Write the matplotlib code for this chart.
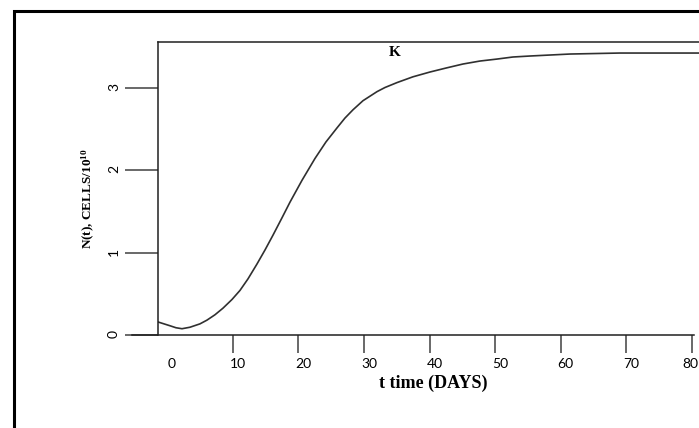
import matplotlib
matplotlib.use('Agg')
import matplotlib.pyplot as plt
from matplotlib.patches import Rectangle
from matplotlib.transforms import ScaledTranslation

# Data
t_days = [-1.37, 0.46, 1.37, 2.29, 3.50, 5.03, 6.09, 7.31, 8.53, 9.90,
          11.12, 12.34, 13.71, 14.93, 16.15, 17.52, 18.74, 20.57, 22.55,
          24.22, 25.90, 27.12, 28.34, 29.86, 32.00, 33.21, 35.05, 37.48,
          40.07, 42.50, 45.10, 47.68, 50.28, 52.71, 55.31, 58.35, 61.40,
          69.01, 81.05, 90.0]
n_cells = [0.158, 0.112, 0.088, 0.076, 0.094, 0.135, 0.180, 0.245, 0.325,
           0.430, 0.540, 0.680, 0.860, 1.030, 1.210, 1.420, 1.610, 1.875,
           2.140, 2.340, 2.510, 2.630, 2.730, 2.840, 2.950, 3.000, 3.060,
           3.130, 3.188, 3.236, 3.285, 3.321, 3.345, 3.370, 3.382, 3.394,
           3.406, 3.418, 3.418, 3.418]
x_ticks = [0, 10, 20, 30, 40, 50, 60, 70, 80]
y_ticks = [0, 1, 2, 3]
x_label = 't time (DAYS)'
y_label = 'N(t), CELLS/10$^{10}$'
k_label = 'K'
k_pos = (34.7, 3.42)

plt.rcParams['mathtext.fontset'] = 'custom'
plt.rcParams['mathtext.rm'] = 'Liberation Serif:bold'
plt.rcParams['mathtext.it'] = 'Liberation Serif:bold'
plt.rcParams['mathtext.bf'] = 'Liberation Serif:bold'

fig = plt.figure(figsize=(6.99, 4.28), dpi=100)
ax = fig.add_axes([0.2260, 0.2173, 0.858, 0.6846])

ax.plot(t_days, n_cells, color='#303030', lw=1.2, solid_joinstyle='round')
ax.set_xlim(-1.37, 90)
ax.set_ylim(0, 3.552)

ax.spines['right'].set_visible(False)
for s in ['top', 'left', 'bottom']:
    ax.spines[s].set_linewidth(1.1)
    ax.spines[s].set_color('#202020')
ax.spines['bottom'].set_bounds(-5.3, 80.3)
ax.spines['bottom'].set_clip_on(False)

ax.set_xticks(x_ticks)
ax.set_yticks(y_ticks)
ax.set_xticklabels([str(v) for v in x_ticks])
ax.set_yticklabels([str(v) for v in y_ticks])
ax.xaxis.get_major_ticks()[0].tick1line.set_visible(False)

ax.tick_params(axis='x', direction='out', length=13, width=1.1,
               color='#404040', pad=3.6, labelsize=10)
ax.tick_params(axis='y', direction='out', length=23.8, width=1.1,
               color='#404040', pad=3.6, labelsize=10, labelrotation=90)

xlabels = ax.get_xticklabels()
for i, lab in enumerate(xlabels):
    lab.set_fontfamily('Lato')
    dx = 0.05 if i < len(xlabels) - 1 else -0.02
    lab.set_transform(lab.get_transform() +
                      ScaledTranslation(dx, 0, fig.dpi_scale_trans))
for lab in ax.get_yticklabels():
    lab.set_fontfamily('Lato')

ax.text(k_pos[0], k_pos[1], k_label, ha='center', va='center',
        family='Liberation Serif', weight='bold', fontsize=11)

fig.text(433 / 699, 1 - 383 / 428, x_label, ha='center', va='center',
         family='Liberation Serif', weight='bold', fontsize=13)
fig.text(88 / 699, 1 - 199 / 428, y_label, ha='center', va='center',
         rotation=90, family='Liberation Serif', weight='bold', fontsize=9.5)

frame = Rectangle((13.5 / 699, -0.1), 1.2, (428 - 10.5) / 428 + 0.1,
                  transform=fig.transFigure, fill=False, lw=2.2,
                  edgecolor='black', clip_on=False)
fig.patches.append(frame)

fig.savefig('out.png', dpi=100)
